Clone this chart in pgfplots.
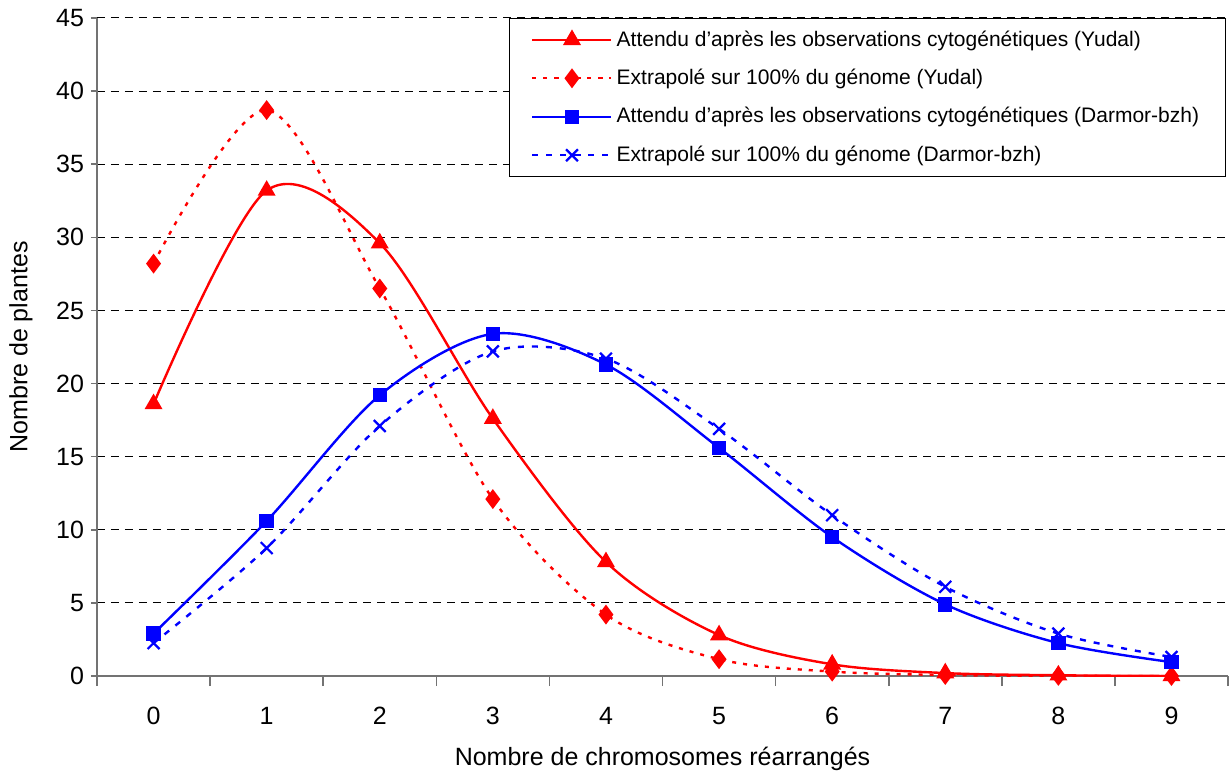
\documentclass[border=0pt]{standalone}
\usepackage{fontspec}
\setmainfont{Liberation Sans}
\usepackage{pgfplots}
\pgfplotsset{compat=1.18}
\definecolor{xlred}{RGB}{255,0,0}
\definecolor{xlblue}{RGB}{0,0,255}
\begin{document}
\begin{tikzpicture}
\useasboundingbox (-48.5pt,-49.5pt) rectangle (566.5pt,338pt);
\begin{axis}[
  scale only axis, width=565.5pt, height=329pt,
  xmin=-0.5, xmax=9.5, ymin=0, ymax=45,
  axis x line=bottom, axis y line=left,
  axis line style={-, draw=black!55, line width=0.8pt},
  xtick={0,...,9}, minor xtick={-0.5,0.5,...,9.5},
  ytick={0,5,...,45},
  tick align=outside, major tick length=3pt, minor tick length=5pt,
  major x tick style={draw=none},
  minor x tick style={draw=black!55, line width=0.8pt},
  major y tick style={draw=black!55, line width=0.8pt},
  ymajorgrids,
  y grid style={black, dash pattern=on 4pt off 3pt, line width=0.5pt},
  /pgf/number format/assume math mode=true,
  ticklabel style={font=\fontsize{12.5}{15}\selectfont},
  xticklabel style={yshift=-9pt},
  every axis x label/.style={at={(rel axis cs:0.5,0)}, yshift=-41.5pt, anchor=center},
  every axis y label/.style={at={(rel axis cs:0,0.5)}, xshift=-38pt, rotate=90, anchor=center},
  label style={font=\fontsize{12.5}{15}\selectfont},
  xlabel={Nombre de chromosomes réarrangés},
  ylabel={Nombre de plantes},
  legend style={at={(rel axis cs:0.998,1)}, anchor=north east, draw=black, line width=0.6pt,
    font=\fontsize{10.5}{12.5}\selectfont, row sep=6pt, inner xsep=11pt, inner ysep=4pt},
  legend cell align=left,
  legend image code/.code={\draw[mark repeat=2,mark phase=2,#1] plot coordinates {(0pt,0pt)(19.75pt,0pt)(39.5pt,0pt)};},
  every axis plot/.append style={line width=1.2pt, smooth, tension=0.52},
]
\addplot[xlred, mark=triangle*, mark size=4pt, mark options={solid}] coordinates {
(0,18.6)(1,33.2)(2,29.6)(3,17.6)(4,7.8)(5,2.8)(6,0.8)(7,0.2)(8,0.05)(9,0)};
\addlegendentry{Attendu d'après les observations cytogénétiques (Yudal)}
\addplot[xlred, dash pattern=on 2pt off 3.5pt, mark=diamond*, mark size=4pt, mark options={solid}] coordinates {
(0,28.2)(1,38.7)(2,26.5)(3,12.1)(4,4.2)(5,1.15)(6,0.3)(7,0.07)(8,0.01)(9,0)};
\addlegendentry{Extrapolé sur 100\% du génome (Yudal)}
\addplot[xlblue, mark=square*, mark size=3pt, mark options={solid}] coordinates {
(0,2.9)(1,10.6)(2,19.2)(3,23.4)(4,21.3)(5,15.6)(6,9.5)(7,4.9)(8,2.25)(9,0.95)};
\addlegendentry{Attendu d'après les observations cytogénétiques (Darmor-bzh)}
\addplot[xlblue, dash pattern=on 3pt off 4pt, mark=x, mark size=4.2pt, mark options={solid, line width=1.1pt}] coordinates {
(0,2.25)(1,8.75)(2,17.1)(3,22.2)(4,21.7)(5,16.9)(6,11.0)(7,6.1)(8,2.9)(9,1.3)};
\addlegendentry{Extrapolé sur 100\% du génome (Darmor-bzh)}
\end{axis}
\end{tikzpicture}
\end{document}
